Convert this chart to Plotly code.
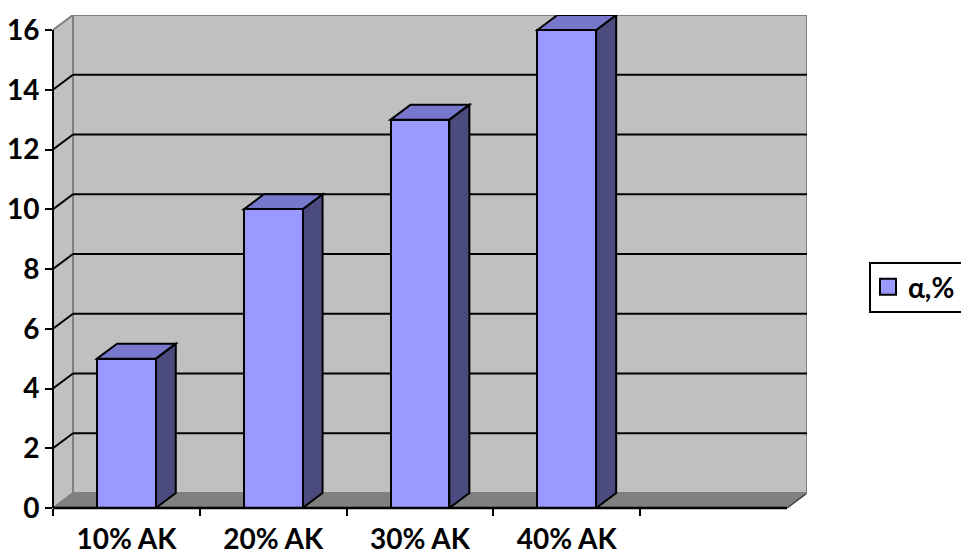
import plotly.graph_objects as go

# ---- data ----
categories = ["10% AK", "20% AK", "30% AK", "40% AK"]
values = [5, 10, 13, 16]
series_name = "α,%"
y_ticks = [0, 2, 4, 6, 8, 10, 12, 14, 16]
n_slots = 5  # category slots on the axis (last one empty)

# ---- geometry / styles ----
W, H = 961, 555
L, R, T, B = 53, 154, 15, 47
plot_w = W - L - R
plot_h = H - T - B
DEPTH_PX_X, DEPTH_PX_Y = 20, 15
ymax = 16
px_per_y = (plot_h - DEPTH_PX_Y) / ymax
px_per_x = (plot_w - DEPTH_PX_X) / n_slots
DX = DEPTH_PX_X / px_per_x
DY = DEPTH_PX_Y / px_per_y
x_lo, x_hi = -0.5, n_slots - 0.5
BW = 0.4

FRONT = "#9999FF"
SIDE = "#4B4B80"
TOP = "#7777CC"
WALL = "#C0C0C0"
FLOOR = "#808080"
EDGE = "#808080"
FONT = dict(family="Lato, Roboto, sans-serif", size=28, color="black", weight="bold")


def px_to_paper_x(px):
    return (px - L) / plot_w


def px_to_paper_y(py):
    return (H - B - py) / plot_h


fig = go.Figure()
fig.add_trace(go.Bar(
    x=list(range(len(values))), y=values, width=BW,
    marker=dict(color=FRONT, line=dict(color="black", width=2)),
    showlegend=False, hoverinfo="skip",
))
fig.add_trace(go.Scatter(
    x=[None], y=[None], mode="markers", name=series_name, xaxis="x2",
    marker=dict(symbol="square", size=19, color=FRONT, line=dict(color="black", width=2)),
))

shapes = []
def poly(pts):
    return "M" + " L".join(f"{x},{y}" for x, y in pts) + " Z"

# floor
shapes.append(dict(type="path", xref="x", yref="y", layer="below",
    path=poly([(x_lo, 0), (x_hi, 0), (x_hi + DX, DY), (x_lo + DX, DY)]),
    fillcolor=FLOOR, line=dict(color="#404040", width=1.5)))
# back wall
shapes.append(dict(type="rect", xref="x", yref="y", layer="below",
    x0=x_lo + DX, x1=x_hi + DX, y0=DY, y1=ymax + DY,
    fillcolor=WALL, line=dict(color=EDGE, width=2)))
# side wall
shapes.append(dict(type="path", xref="x", yref="y", layer="below",
    path=poly([(x_lo, 0), (x_lo + DX, DY), (x_lo + DX, ymax + DY), (x_lo, ymax)]),
    fillcolor=WALL, line=dict(color=EDGE, width=2)))
# gridlines
for v in y_ticks:
    if v == 0 or v == ymax:
        continue
    shapes.append(dict(type="line", xref="x", yref="y", layer="below",
        x0=x_lo + DX, x1=x_hi + DX, y0=v + DY, y1=v + DY,
        line=dict(color="black", width=2)))
    shapes.append(dict(type="line", xref="x", yref="y", layer="below",
        x0=x_lo, x1=x_lo + DX, y0=v, y1=v + DY,
        line=dict(color="black", width=2)))
# bar side and top faces
for i, v in enumerate(values):
    xl, xr = i - BW / 2, i + BW / 2
    shapes.append(dict(type="path", xref="x", yref="y", layer="below",
        path=poly([(xr, 0), (xr + DX, DY), (xr + DX, v + DY), (xr, v)]),
        fillcolor=SIDE, line=dict(color="black", width=2)))
    shapes.append(dict(type="path", xref="x", yref="y", layer="below",
        path=poly([(xl, v), (xl + DX, v + DY), (xr + DX, v + DY), (xr, v)]),
        fillcolor=TOP, line=dict(color="black", width=2)))
# axis lines (paper coords so they are not clipped)
xspan = (x_hi + DX) - x_lo
yspan = ymax + DY
shapes.append(dict(type="line", xref="paper", yref="paper",
    x0=0, x1=0, y0=0, y1=ymax / yspan, line=dict(color="black", width=2)))
shapes.append(dict(type="line", xref="paper", yref="paper",
    x0=0, x1=(x_hi - x_lo) / xspan, y0=0, y1=0, line=dict(color="black", width=2.5)))
# legend frame (runs off the right edge of the picture, as in the original)
shapes.append(dict(type="rect", xref="paper", yref="paper", layer="above",
    x0=px_to_paper_x(870), x1=px_to_paper_x(990),
    y0=px_to_paper_y(312), y1=px_to_paper_y(263),
    fillcolor="rgba(0,0,0,0)", line=dict(color="black", width=2)))

fig.update_layout(
    width=W, height=H,
    margin=dict(l=L, r=R, t=T, b=B, autoexpand=False),
    paper_bgcolor="white", plot_bgcolor="white",
    shapes=shapes,
    font=FONT,
    bargap=0,
    xaxis=dict(range=[x_lo, x_hi + DX], tickvals=[x_lo] + [i + 0.5 for i in range(n_slots - 1)],
               ticktext=[""] * n_slots, ticks="outside", ticklen=7, tickwidth=2, tickcolor="black",
               showgrid=False, zeroline=False, showline=False, fixedrange=True),
    xaxis2=dict(range=[x_lo, x_hi + DX], overlaying="x", anchor="y", side="bottom",
                tickvals=list(range(len(categories))), ticktext=categories,
                ticks="outside", ticklen=6, tickcolor="rgba(0,0,0,0)",
                showgrid=False, zeroline=False, showline=False, tickfont=FONT),
    yaxis=dict(range=[0, ymax + DY], tickvals=y_ticks, ticks="outside", ticklen=7, tickwidth=2,
               tickcolor="black", showgrid=False, zeroline=False, showline=False, tickfont=FONT),
    legend=dict(x=px_to_paper_x(868), y=px_to_paper_y(287), xanchor="left", yanchor="middle",
                bgcolor="rgba(0,0,0,0)", borderwidth=0, font=FONT),
)

fig.write_html("out.html")
